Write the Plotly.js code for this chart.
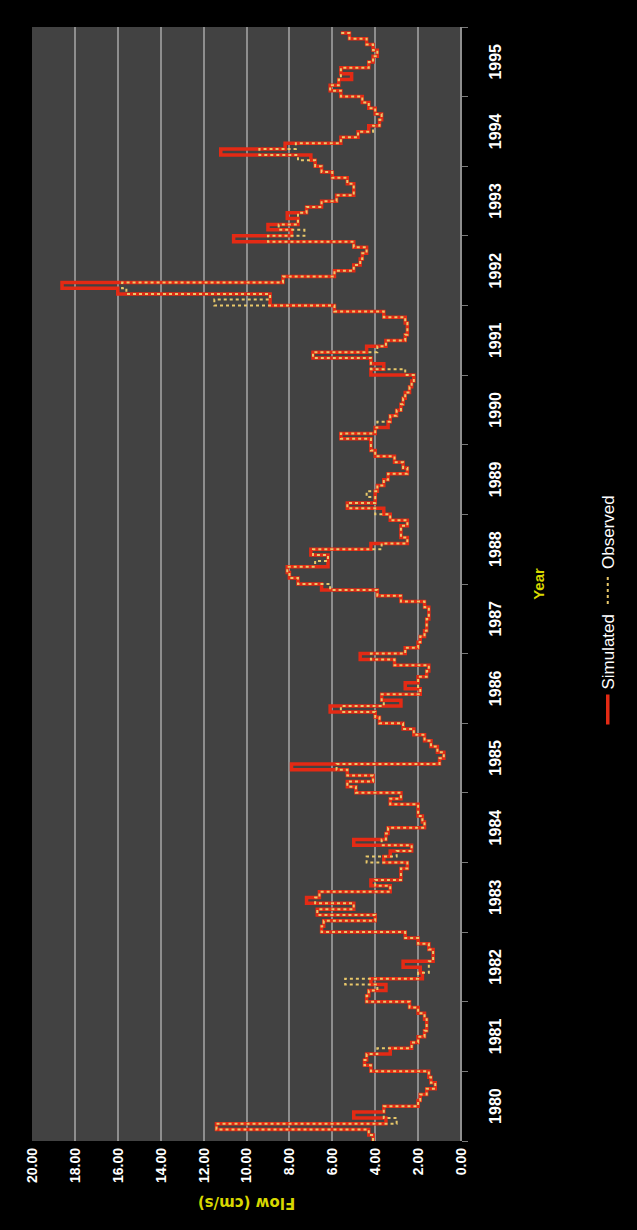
<!DOCTYPE html>
<html>
<head>
<meta charset="utf-8">
<script src="https://cdn.plot.ly/plotly-3.0.1.min.js"></script>
<style>
  html, body { margin:0; padding:0; background:#000; width:637px; height:1230px; overflow:hidden; }
  #chart { position:absolute; left:0; top:1230px; width:1230px; height:637px;
           transform-origin:0 0; transform:rotate(-90deg); }
</style>
</head>
<body>
<div id="chart"></div>
<script>
// Monthly flow values, Jan 1980 .. Dec 1995
const startYear = 1980;
const yearLabels = ['1980','1981','1982','1983','1984','1985','1986','1987','1988','1989','1990','1991','1992','1993','1994','1995'];

const observed = [
  // 1980
  4.1, 4.3, 11.4, 3.0, 3.6, 3.6, 2.0, 1.9, 1.6, 1.2, 1.4, 1.5,
  // 1981
  4.2, 4.5, 4.4, 3.9, 2.3, 2.0, 1.7, 1.6, 1.6, 1.7, 2.0, 2.4,
  // 1982
  4.4, 4.3, 3.9, 5.4, 2.0, 1.5, 1.5, 1.3, 1.3, 1.5, 2.0, 2.6,
  // 1983
  6.5, 6.4, 4.0, 6.7, 5.0, 6.8, 6.6, 3.3, 4.0, 2.8, 2.8, 2.5,
  // 1984
  4.4, 3.0, 2.3, 3.7, 3.5, 3.4, 1.7, 1.8, 2.0, 2.0, 3.3, 2.8,
  // 1985
  4.9, 5.3, 4.1, 5.3, 5.8, 1.0, 0.8, 1.1, 1.4, 1.7, 2.2, 2.7,
  // 1986
  3.8, 4.0, 5.6, 3.6, 3.7, 1.9, 2.0, 2.0, 1.6, 1.5, 3.1, 4.2,
  // 1987
  2.6, 2.0, 1.9, 1.7, 1.6, 1.6, 1.5, 1.5, 1.7, 2.8, 3.9, 6.1,
  // 1988
  7.6, 8.0, 8.1, 6.8, 6.2, 6.9, 3.7, 2.5, 2.8, 2.8, 2.5, 3.3,
  // 1989
  4.0, 5.3, 4.0, 4.4, 3.9, 3.6, 3.4, 2.5, 2.7, 3.1, 4.0, 4.2,
  // 1990
  4.2, 5.6, 4.0, 3.9, 3.3, 3.0, 2.8, 2.7, 2.6, 2.4, 2.3, 2.2,
  // 1991
  2.6, 4.2, 4.2, 6.9, 3.9, 3.5, 2.6, 2.5, 2.5, 2.6, 3.6, 5.9,
  // 1992
  11.5, 8.9, 15.6, 15.8, 8.3, 5.9, 5.0, 4.7, 4.6, 4.4, 5.0, 9.0,
  // 1993
  7.3, 8.5, 7.6, 7.6, 7.2, 6.5, 5.8, 5.0, 5.0, 5.3, 6.0, 6.5,
  // 1994
  6.8, 7.6, 9.4, 7.7, 5.6, 4.8, 4.1, 3.8, 3.7, 4.0, 4.3, 4.6,
  // 1995
  5.6, 6.1, 5.7, 5.6, 5.6, 4.3, 4.1, 3.9, 4.1, 4.4, 5.2, 5.6
];

const simulated = [
  // 1980
  4.1, 4.3, 11.4, 3.5, 5.0, 3.6, 2.0, 1.9, 1.6, 1.2, 1.4, 1.5,
  // 1981
  4.2, 4.5, 4.4, 3.3, 2.3, 2.0, 1.7, 1.6, 1.6, 1.7, 2.0, 2.4,
  // 1982
  4.4, 4.3, 3.5, 4.2, 1.8, 1.9, 2.7, 1.3, 1.3, 1.5, 2.0, 2.6,
  // 1983
  6.5, 6.4, 4.0, 6.7, 5.0, 7.2, 6.6, 3.3, 4.2, 2.8, 2.8, 2.5,
  // 1984
  3.6, 3.3, 2.3, 5.0, 3.5, 3.4, 1.7, 1.8, 2.0, 2.0, 3.3, 2.8,
  // 1985
  4.9, 5.3, 4.1, 5.3, 7.9, 1.0, 0.8, 1.1, 1.4, 1.7, 2.2, 2.7,
  // 1986
  3.8, 4.0, 6.1, 2.8, 3.7, 1.9, 2.6, 2.0, 1.6, 1.5, 3.1, 4.7,
  // 1987
  2.6, 2.0, 1.9, 1.7, 1.6, 1.6, 1.5, 1.5, 1.7, 2.8, 3.9, 6.5,
  // 1988
  7.6, 8.0, 8.1, 6.2, 6.2, 7.0, 4.2, 2.5, 2.8, 2.8, 2.5, 3.3,
  // 1989
  3.6, 5.3, 4.0, 4.0, 3.9, 3.6, 3.4, 2.5, 2.7, 3.1, 4.0, 4.2,
  // 1990
  4.2, 5.6, 4.0, 3.4, 3.3, 3.0, 2.8, 2.7, 2.6, 2.4, 2.3, 2.2,
  // 1991
  4.2, 3.6, 4.2, 6.9, 4.4, 3.5, 2.6, 2.5, 2.5, 2.6, 3.6, 5.9,
  // 1992
  8.9, 8.9, 16.0, 18.6, 8.3, 5.9, 5.0, 4.7, 4.6, 4.4, 5.0, 10.6,
  // 1993
  7.9, 9.0, 7.6, 8.1, 7.2, 6.5, 5.8, 5.0, 5.0, 5.3, 6.0, 6.5,
  // 1994
  6.8, 7.0, 11.2, 8.2, 5.6, 4.8, 4.3, 3.8, 3.7, 4.0, 4.3, 4.6,
  // 1995
  5.6, 6.1, 5.7, 5.1, 5.6, 4.3, 4.1, 3.9, 4.1, 4.4, 5.2, 5.6
];

const months = observed.map((_, i) => {
  const y = startYear + Math.floor(i / 12);
  const m = (i % 12) + 1;
  return y + '-' + (m < 10 ? '0' + m : m) + '-01';
});

const traces = [
  { x: months, y: simulated, name: 'Simulated', type: 'scatter', mode: 'lines',
    line: { color: '#e42a14', width: 3.5, shape: 'hv' } },
  { x: months, y: observed, name: 'Observed', type: 'scatter', mode: 'lines',
    line: { color: '#e8c86a', width: 2, dash: 'dot', shape: 'hv' } }
];

const layout = {
  width: 1230, height: 637,
  paper_bgcolor: '#000000', plot_bgcolor: '#424242',
  margin: { l: 89, r: 27, t: 32, b: 175 },
  showlegend: true,
  legend: { orientation: 'h', x: 0.477, y: -0.34, xanchor: 'center', yanchor: 'middle',
            font: { color: '#ffffff', size: 17, family: 'Liberation Sans, Arial, sans-serif' },
            bgcolor: 'rgba(0,0,0,0)', itemwidth: 30 },
  xaxis: {
    type: 'date', range: ['1980-01-01', '1996-01-01'],
    tick0: '1980-01-01', dtick: 'M12', tickformat: '%Y', ticklabelmode: 'period',
    ticks: 'outside', ticklen: 6, tickwidth: 1, tickcolor: '#7a7a7a',
    ticklabelstandoff: 14,
    showgrid: false, zeroline: false, showline: false,
    tickfont: { color: '#ffffff', size: 16, family: 'Liberation Sans, Arial, sans-serif', weight: 'bold' },
    title: { text: 'Year', standoff: 30,
             font: { color: '#d8d800', size: 15, family: 'Liberation Sans, Arial, sans-serif', weight: 'bold' } }
  },
  yaxis: {
    range: [0, 20], dtick: 2, tick0: 0, tickformat: '.2f',
    showgrid: true, gridcolor: '#8e8e8e', gridwidth: 2,
    zeroline: true, zerolinecolor: '#8e8e8e', zerolinewidth: 2,
    showline: false, ticks: '',
    ticklabelstandoff: 6,
    tickfont: { color: '#ffffff', size: 14, family: 'Liberation Sans, Arial, sans-serif', weight: 'bold' },
    title: { text: 'Flow (cm/s)', standoff: 10,
             font: { color: '#d8d800', size: 15, family: 'DejaVu Sans, sans-serif', weight: 'bold' } }
  }
};

Plotly.newPlot('chart', traces, layout, { displayModeBar: false, staticPlot: true });
</script>
</body>
</html>
